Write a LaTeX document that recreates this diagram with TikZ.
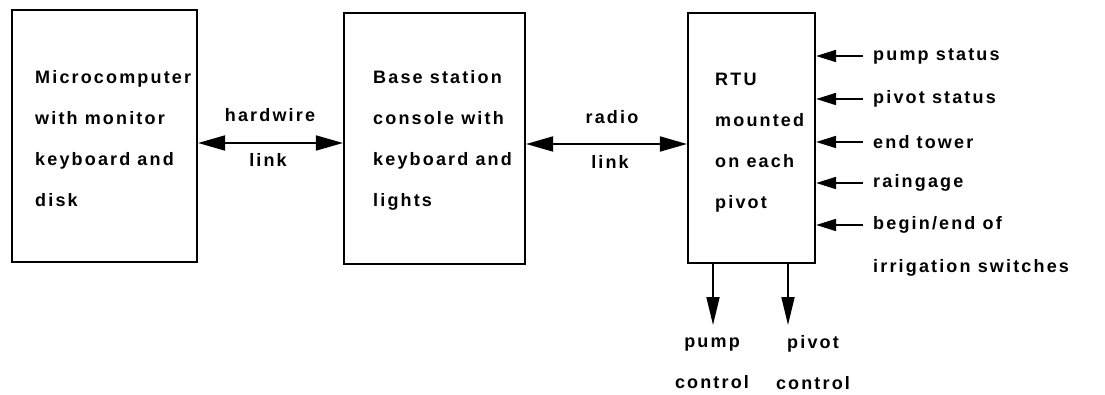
\documentclass[tikz,border=0pt]{standalone}
\usepackage{fontspec}
\setmainfont{Liberation Sans}[LetterSpace=12]
\usetikzlibrary{arrows.meta}
\tikzset{
  blk/.style={draw, line width=2.2pt, minimum width=#1, inner sep=0pt},
  blktext/.style={anchor=west, align=left, inner sep=0pt,
    font=\bfseries\fontsize{18}{41}\selectfont},
  lbl/.style={inner sep=0pt, font=\bfseries\fontsize{18}{41}\selectfont},
  biglink/.style={line width=1.8pt, {Triangle[length=27pt,width=15pt]}-{Triangle[length=27pt,width=15pt]}},
  inarrow/.style={line width=1.8pt, -{Triangle[length=20pt,width=12pt]}},
  outarrow/.style={line width=1.8pt, -{Triangle[length=28pt,width=13pt]}}
}
\begin{document}
\begin{tikzpicture}[x=1pt,y=-1pt]
\useasboundingbox (0,0) rectangle (1105,395);
% the three boxes
\node[blk=185pt, minimum height=252pt] (micro) at (104.5,136) {};
\node[blk=181pt, minimum height=251pt] (base) at (434.5,138.5) {};
\node[blk=127pt, minimum height=250pt] (rtu) at (751.5,138) {};
\node[blktext] (microtxt) at (35,138.5) {Microcomputer\\with monitor\\keyboard and\\disk};
\node[blktext] (basetxt) at (373,140.5) {Base station\\console with\\keyboard and\\lights};
\node[blktext] (rtutxt) at (715,142.5) {RTU\\mounted\\on each\\pivot};
% links between boxes
\coordinate (hw) at (0,143);
\coordinate (rl) at (0,144);
\draw[biglink] (micro.east |- hw) -- (base.west |- hw);
\draw[biglink] (base.east |- rl) -- (rtu.west |- rl);
\node[lbl] (hwtop) at (270,115) {hardwire};
\node[lbl] (hwbot) at (268,160) {link};
\node[lbl] (rltop) at (612,117) {radio};
\node[lbl] (rlbot) at (610,162) {link};
% inputs to the RTU
\foreach \y/\name/\txt in {56/pump/{pump status}, 99/pivot/{pivot status},
    142/tower/{end tower}, 183/rain/{raingage}, 225/switch/{begin/end of}}{
  \coordinate (\name) at (863,\y);
  \draw[inarrow] (\name) -- (rtu.east |- \name);
  \node[lbl, anchor=west] (\name txt) at (873,\y) {\txt};
}
\node[lbl, anchor=west] (irrtxt) at (873,268) {irrigation switches};
% outputs from the RTU
\coordinate (pumpout) at (713,325);
\coordinate (pivotout) at (788,325);
\draw[outarrow] (rtu.south -| pumpout) -- (pumpout);
\draw[outarrow] (rtu.south -| pivotout) -- (pivotout);
\node[lbl, align=center] (pumpctl) at (712,363) {pump\\control};
\node[lbl, align=center] (pivotctl) at (813,363) {pivot\\control};
\end{tikzpicture}
\end{document}
